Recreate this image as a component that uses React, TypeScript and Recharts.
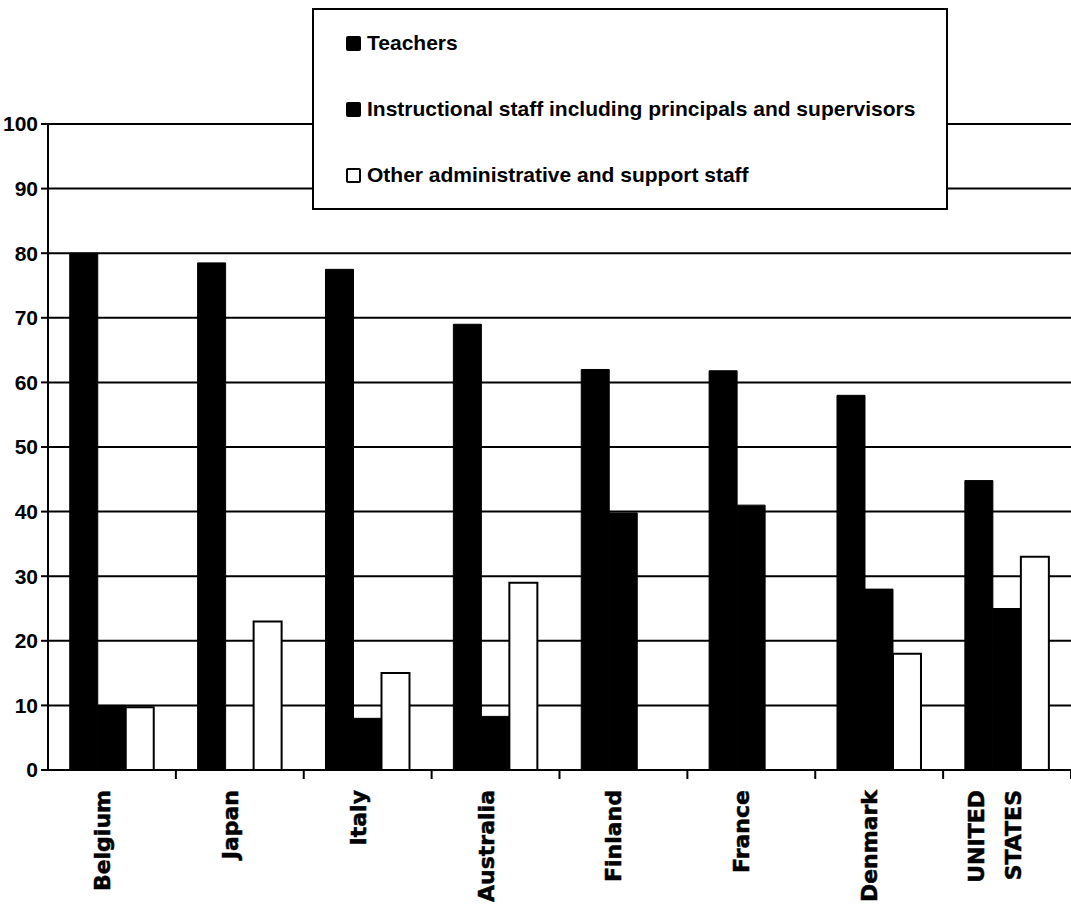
import React from "react";
import { BarChart, Bar, XAxis, YAxis, CartesianGrid, Legend } from "recharts";

const countries = ["Belgium", "Japan", "Italy", "Australia", "Finland", "France", "Denmark", "UNITED STATES"];
const teachers = [80, 78.5, 77.5, 69, 62, 61.8, 58, 44.8];
const instructional = [10, null, 8, 8.3, 39.8, 41, 28, 25];
const otherStaff = [9.7, 23, 15, 29, null, null, 18, 33];
const yTicks = [0, 10, 20, 30, 40, 50, 60, 70, 80, 90, 100];

const seriesKeys = ["teachers", "instructional", "other"];
const seriesNames: Record<string, string> = {
  teachers: "Teachers",
  instructional: "Instructional staff including principals and supervisors",
  other: "Other administrative and support staff",
};

const data = countries.map((name, i) => ({
  name,
  teachers: teachers[i],
  instructional: instructional[i],
  other: otherStaff[i],
}));

const CountryTick = (props: any) => {
  const { x, y, payload } = props;
  const half = typeof payload?.offset === "number" && payload.offset > 0 ? payload.offset : 64;
  const words = String(payload.value).split(" ");
  const style = {
    fontFamily: "'DejaVu Sans', sans-serif",
    fontWeight: 700,
    fontSize: 22,
    fill: "#000",
    stroke: "#000",
    strokeWidth: 0.5,
  } as const;
  return (
    <g>
      <line x1={x + half} x2={x + half} y1={y} y2={y + 9} stroke="#000" strokeWidth={2} />
      {words.length === 1 ? (
        <text transform={`translate(${x - 2},${y + 20}) rotate(-90)`} textAnchor="end" style={style}>
          {words[0]}
        </text>
      ) : (
        words.map((w, i) => (
          <text
            key={w}
            transform={`translate(${x - 23 + i * 37},${y + 20}) rotate(-90)`}
            textAnchor="end"
            style={style}
          >
            {w}
          </text>
        ))
      )}
    </g>
  );
};

const LegendBox = (props: any) => {
  const payload = [...(props.payload || [])].sort(
    (a: any, b: any) => seriesKeys.indexOf(String(a.dataKey)) - seriesKeys.indexOf(String(b.dataKey))
  );
  const centers = [35, 101, 167];
  return (
    <div
      style={{
        width: 636,
        height: 202,
        boxSizing: "border-box",
        border: "2px solid #000",
        background: "#fff",
        position: "relative",
        fontFamily: "'Liberation Sans', Arial, sans-serif",
        fontWeight: 700,
        fontSize: 21,
        color: "#000",
      }}
    >
      {payload.map((entry: any, i: number) => (
        <div
          key={entry.value}
          style={{
            position: "absolute",
            left: 32,
            top: centers[i] - 11 - 2,
            height: 22,
            display: "flex",
            alignItems: "center",
            whiteSpace: "nowrap",
            lineHeight: "22px",
          }}
        >
          <span
            style={{
              display: "inline-block",
              width: 15,
              height: 15,
              boxSizing: "border-box",
              border: "2px solid #000",
              borderRadius: 2,
              background: entry.color,
              marginRight: 6,
            }}
          />
          <span>{entry.value}</span>
        </div>
      ))}
    </div>
  );
};

export default function App() {
  return (
    <div style={{ position: "absolute", left: 0, top: 0, width: 1071, height: 917, background: "#fff" }}>
      <BarChart
        width={1071}
        height={917}
        data={data}
        margin={{ top: 124, right: 0, bottom: 0, left: 0 }}
        barCategoryGap="17%"
        barGap={0}
      >
        <CartesianGrid vertical={false} stroke="#000" strokeWidth={2} />
        <XAxis
          dataKey="name"
          height={147}
          axisLine={{ stroke: "#000", strokeWidth: 2 }}
          tickLine={false}
          tickSize={0}
          tickMargin={0}
          interval={0}
          tick={<CountryTick />}
        />
        <YAxis
          width={48}
          domain={[0, 100]}
          ticks={yTicks}
          interval={0}
          axisLine={{ stroke: "#000", strokeWidth: 2 }}
          tickLine={{ stroke: "#000", strokeWidth: 2 }}
          tickSize={7}
          tickMargin={3}
          tick={{ fill: "#000", fontSize: 21, fontWeight: 700, fontFamily: "'Liberation Sans', Arial, sans-serif" }}
        />
        <Legend
          layout="horizontal"
          verticalAlign="middle"
          align="center"
          wrapperStyle={{ position: "absolute", left: 312, top: 8, width: 636, height: 202 }}
          content={<LegendBox />}
        />
        <Bar dataKey="teachers" name={seriesNames.teachers} fill="#000" stroke="#000" strokeWidth={1} isAnimationActive={false} />
        <Bar dataKey="instructional" name={seriesNames.instructional} fill="#000" stroke="#000" strokeWidth={1} isAnimationActive={false} />
        <Bar dataKey="other" name={seriesNames.other} fill="#fff" stroke="#000" strokeWidth={2} isAnimationActive={false} />
      </BarChart>
    </div>
  );
}
